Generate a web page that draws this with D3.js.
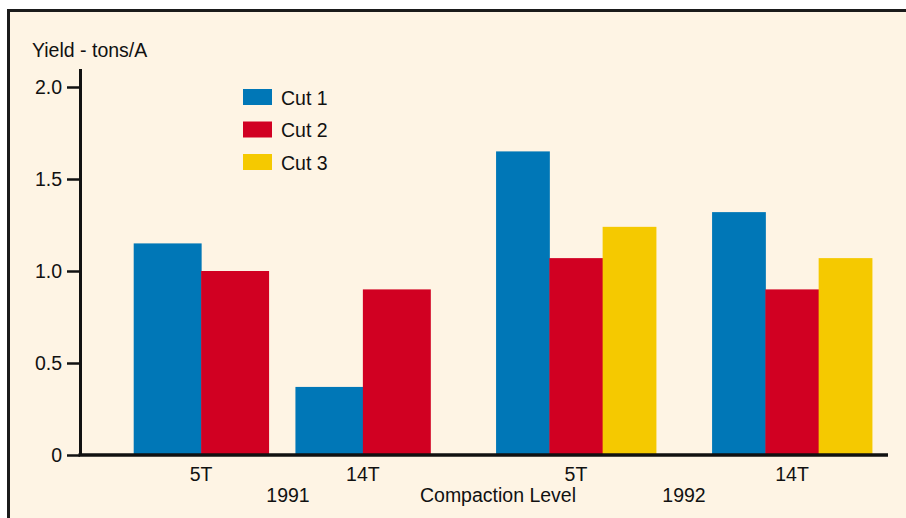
<!DOCTYPE html>
<html>
<head>
<meta charset="utf-8">
<script src="https://cdn.jsdelivr.net/npm/d3@7"></script>
<style>
  html, body { margin: 0; padding: 0; background: #ffffff; }
  svg { display: block; font-family: "Liberation Sans", Arial, sans-serif; }
</style>
</head>
<body>
<svg id="chart" width="906" height="518"></svg>
<script>
// ---- data ----
const years = ["1991", "1992"];
const levels = ["5T", "14T"];
const cuts = ["Cut 1", "Cut 2", "Cut 3"];
// values per group in order: 1991-5T, 1991-14T, 1992-5T, 1992-14T
const cut1 = [1.15, 0.37, 1.65, 1.32];
const cut2 = [1.00, 0.90, 1.07, 0.90];
const cut3 = [null, null, 1.24, 1.07];
const yTicks = [0, 0.5, 1.0, 1.5, 2.0];
const yLabel = "Yield - tons/A";
const xTitle = "Compaction Level";

// ---- styling / layout ----
const colors = { "Cut 1": "#0077b7", "Cut 2": "#d10022", "Cut 3": "#f5c900" };
const bg = "#fef4e4";
const ink = "#111111";
const fs = 19.5;
const levelPadding = { "1991": [0.166, 0.245], "1992": [0.26, 0.0] };

const groups = [];
years.forEach((yr, i) => levels.forEach((lv, j) => {
  const k = i * levels.length + j;
  const vals = [cut1[k], cut2[k], cut3[k]];
  const items = cuts.map((c, ci) => ({ cut: c, value: vals[ci] })).filter(d => d.value != null);
  groups.push({ year: yr, level: lv, items });
}));

const svg = d3.select("#chart");

// frame
svg.append("rect")
  .attr("x", 8.5).attr("y", 10.5).attr("width", 1000).attr("height", 1000)
  .attr("fill", bg).attr("stroke", "#1b1b1b").attr("stroke-width", 3);

const x0 = 79, x1 = 887, axisX = 80, axisRight = 888;
const y = d3.scaleLinear().domain([0, 2.1]).range([455, 68.6]);

const xYear = d3.scaleBand().domain(years).range([x0, x1])
  .paddingInner(0.065).paddingOuter(0.0375);

const xLevel = {};
years.forEach(yr => {
  xLevel[yr] = d3.scaleBand().domain(levels)
    .range([xYear(yr), xYear(yr) + xYear.bandwidth()])
    .paddingInner(levelPadding[yr][0]).paddingOuter(levelPadding[yr][1]);
});

// bars
groups.forEach(g => {
  const sl = xLevel[g.year];
  const gx = sl(g.level);
  const xc = d3.scaleBand().domain(g.items.map(d => d.cut)).range([gx, gx + sl.bandwidth()]).padding(0);
  svg.append("g").selectAll("rect").data(g.items).join("rect")
    .attr("x", d => xc(d.cut))
    .attr("y", d => y(d.value))
    .attr("width", xc.bandwidth() + 0.5)
    .attr("height", d => y(0) - y(d.value))
    .attr("fill", d => colors[d.cut]);
});

// y axis
const yAxis = d3.axisLeft(y).tickValues(yTicks)
  .tickFormat(d => d === 0 ? "0" : d3.format(".1f")(d))
  .tickSize(13).tickPadding(5).tickSizeOuter(0);
const gy = svg.append("g").attr("transform", `translate(${axisX},0)`).call(yAxis);
gy.select(".domain").attr("stroke", ink).attr("stroke-width", 3);
gy.selectAll(".tick line").attr("stroke", ink).attr("stroke-width", 2.5);
gy.selectAll(".tick text").attr("fill", ink).attr("font-size", fs)
  .attr("font-family", "Liberation Sans, Arial, sans-serif");

// x axis line
svg.append("line")
  .attr("x1", axisX - 1.5).attr("x2", axisRight)
  .attr("y1", y(0)).attr("y2", y(0))
  .attr("stroke", ink).attr("stroke-width", 3.5);

// level labels
svg.append("g").selectAll("text").data(groups).join("text")
  .attr("x", d => xLevel[d.year](d.level) + xLevel[d.year].bandwidth() / 2)
  .attr("y", 481)
  .attr("text-anchor", "middle")
  .attr("font-size", fs).attr("fill", ink)
  .text(d => d.level);

// year labels
svg.append("g").selectAll("text").data(years).join("text")
  .attr("x", d => xYear(d) + xYear.bandwidth() / 2 + (d === "1991" ? 6 : 0))
  .attr("y", 502)
  .attr("text-anchor", "middle")
  .attr("font-size", fs).attr("fill", ink)
  .text(d => d);

svg.append("text")
  .attr("x", 498).attr("y", 502)
  .attr("text-anchor", "middle")
  .attr("font-size", fs).attr("fill", ink)
  .text(xTitle);

// y label
svg.append("text")
  .attr("x", 32).attr("y", 56.5)
  .attr("font-size", fs).attr("fill", ink)
  .text(yLabel);

// legend
const lg = svg.append("g").attr("transform", "translate(243,89)");
const li = lg.selectAll("g").data(cuts).join("g")
  .attr("transform", (d, i) => `translate(0,${i * 32.5})`);
li.append("rect").attr("width", 29).attr("height", 16).attr("fill", d => colors[d]);
li.append("text").attr("x", 38).attr("y", 15.5)
  .attr("font-size", fs).attr("fill", ink).text(d => d);
</script>
</body>
</html>
